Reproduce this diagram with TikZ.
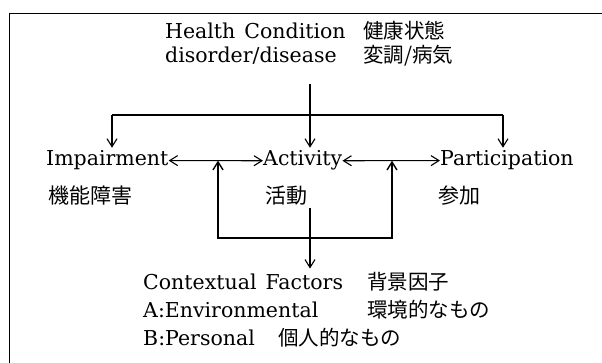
\documentclass[tikz,border=0pt]{standalone}
\usepackage{fontspec}
\setmainfont{DejaVu Serif}
\newfontfamily\jp{Noto Sans CJK JP}
\usetikzlibrary{arrows.meta}
\begin{document}
\begin{tikzpicture}[x=1pt,y=-1pt,
  txt/.style={anchor=base west,inner sep=0pt,font=\fontsize{20.5}{24}\selectfont},
  jtxt/.style={anchor=base west,inner sep=0pt,font=\fontsize{21}{24}\selectfont\jp},
  ln/.style={line width=1.1pt},
  arr/.style={ln,-{Straight Barb[length=8pt,width=10pt]}},
  dbl/.style={ln,{Straight Barb[length=8pt,width=10pt]}-{Straight Barb[length=8pt,width=10pt]}}]
\useasboundingbox (0,0) rectangle (602,363);
\clip (0,0) rectangle (602,363);
\draw[line width=1.5pt] (9.5,13.5) rectangle (640,400);
% top text
\node[txt] (hc) at (165,39) {\makebox[198pt][l]{Health\hspace{9pt}Condition}{\jp 健康状態}};
\node[txt] (dd) at (165,63) {\makebox[198pt][l]{disorder/disease}{\jp 変調/病気}};
% middle row
\node[txt] (imp) at (46,166) {Impairment};
\node[txt] (act) at (263,166) {Activity};
\node[txt] (par) at (440,166) {Participation};
\node[jtxt] (impj) at (48,204) {機能障害};
\node[jtxt] (actj) at (265,204) {活動};
\node[jtxt] (parj) at (438,204) {参加};
% bottom text
\node[txt] (cf) at (143,290) {\makebox[224pt][l]{Contextual\hspace{9pt}Factors}{\jp 背景因子}};
\node[txt] (ea) at (143,317) {\makebox[224pt][l]{A:Environmental}{\jp 環境的なもの}};
\node[txt] (pb) at (143,345) {\makebox[135pt][l]{B:Personal}{\jp 個人的なもの}};
% coordinates
\coordinate (c0) at (310,84);
\coordinate (tl) at (112,115);
\coordinate (tr) at (503,115);
\coordinate (lb) at (218,238);
\coordinate (rb) at (392,238);
\coordinate (c1) at (310,208);
% connectors
\draw[ln] (tl) -- (tr);
\draw[arr,shorten >=3pt] (c0) -- (c0 |- act.north);
\draw[arr,shorten >=3pt] (tl) -- (tl |- imp.north);
\draw[arr,shorten >=3pt] (tr) -- (tr |- par.north);
\draw[dbl] (imp.east) -- (act.west);
\draw[dbl] (act.east) -- (par.west);
\draw[line width=1.4pt,{Straight Barb[length=8pt,width=10pt]}-{Straight Barb[length=8pt,width=10pt]}] (lb |- imp.east) -- (lb) -- (rb) -- (rb |- act.east);
\draw[arr,shorten >=4pt] (c1) -- (c1 |- cf.north);
\end{tikzpicture}
\end{document}
